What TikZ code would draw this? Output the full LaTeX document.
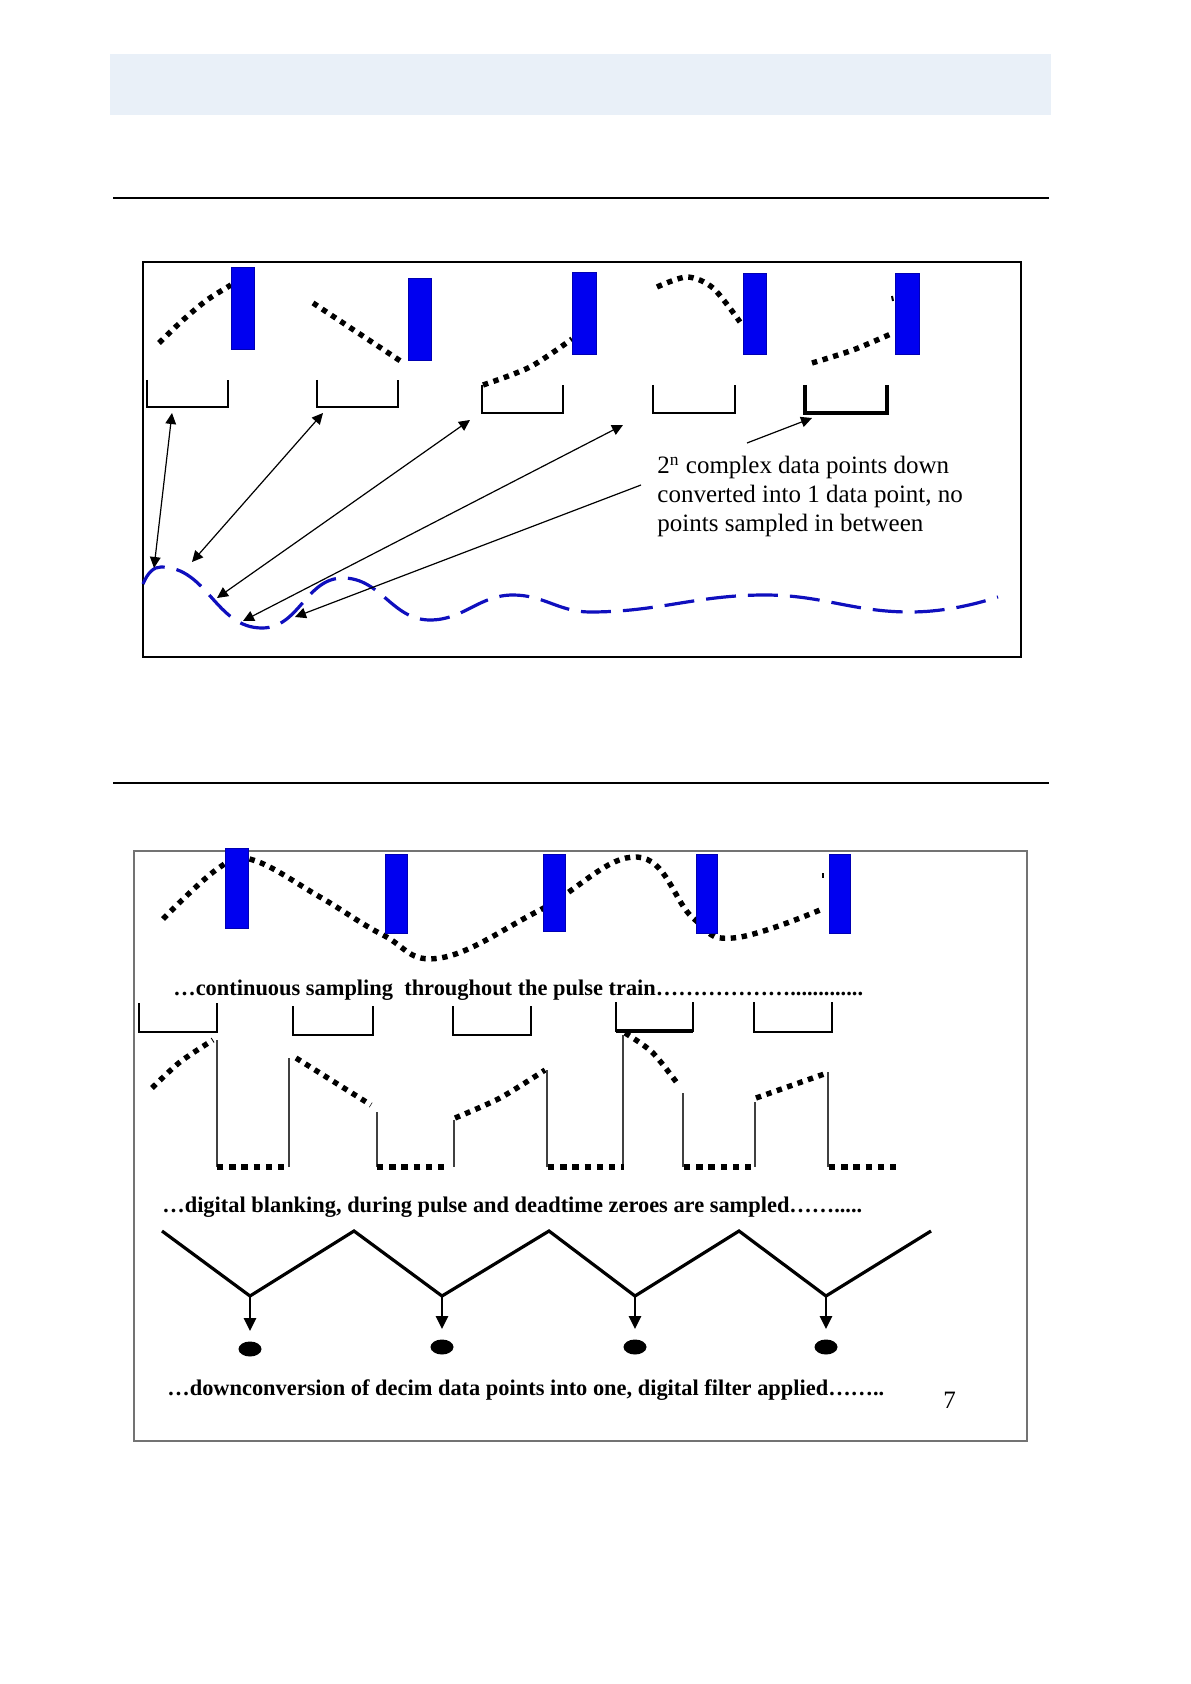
\documentclass[tikz,border=0pt]{standalone}
\usepackage{fontspec}
\setmainfont{Liberation Serif}
\usetikzlibrary{arrows.meta,positioning,shapes.geometric,calc}
\definecolor{bandblue}{RGB}{233,240,248}
\definecolor{pulseblue}{RGB}{0,0,240}
\definecolor{waveblue}{RGB}{15,15,190}
\tikzset{
  pulse/.style={fill=pulseblue, draw=blue!70!black, line width=0.3pt},
  gate/.style={draw, line width=1.4pt},
  samp/.style={draw, line width=2.7pt, dash pattern=on 2.7pt off 2.8pt},
  zero/.style={draw, line width=3.2pt, dash pattern=on 3.2pt off 2.9pt},
  wave/.style={draw=waveblue, line width=1.6pt, dash pattern=on 15pt off 6pt},
  link/.style={{Triangle[length=5.5pt,width=5.3pt]}-{Triangle[length=5.5pt,width=5.3pt]}, line width=0.6pt},
  pointer/.style={-{Triangle[length=5.5pt,width=5.3pt]}, line width=0.6pt},
  tap/.style={-{Triangle[length=6.5pt,width=6pt]}, line width=1.3pt},
  blank/.style={draw=black!75, line width=0.6pt},
  dot/.style={ellipse, fill, minimum width=11.5pt, minimum height=7.5pt, inner sep=0pt},
  note/.style={font=\fontsize{12.5}{14.5}\selectfont, align=left, inner sep=0pt},
  caption/.style={font=\bfseries\fontsize{11.2}{13}\selectfont, inner sep=0pt, anchor=base west},
}

\begin{document}
\begin{tikzpicture}[x=0.5pt, y=-0.5pt]
  \useasboundingbox (0,0) rectangle (1190,1684);
  \fill[bandblue] (110,54) rectangle (1051,115);
  \draw[line width=0.7pt] (113,198) -- (1049,198);
  \draw[line width=0.7pt] (113,783) -- (1049,783);

  % upper panel: one sample per window
  \draw[line width=1pt] (143,262) rectangle (1021,657);
  \draw[samp] plot[smooth] coordinates {(159,343) (183,320) (207,300) (231,285)};
  \draw[samp] (313,303) -- (402,362);
  \draw[samp] plot[smooth] coordinates {(483,385) (530,367) (572,339)};
  \draw[samp] plot[smooth] coordinates {(657,287) (687,277) (713,288) (740,322)};
  \draw[samp] plot[smooth] coordinates {(812,363) (853,350) (893,333)};
  \draw[line width=1pt] (892,296) -- (893,301);
  \fill[pulse] (231,267) rectangle (254,349);
  \fill[pulse] (408,278) rectangle (431,360);
  \fill[pulse] (572,272) rectangle (596,354);
  \fill[pulse] (743,273) rectangle (766,354);
  \fill[pulse] (895,273) rectangle (919,354);
  \draw[gate] (147,380) |- (228,407) -- (228,380);
  \draw[gate] (317,380) |- (398,407) -- (398,380);
  \draw[gate] (482,385) |- (563,413) -- (563,385);
  \draw[gate] (653,385) |- (735,413) -- (735,385);
  \draw[gate, line width=1.9pt] (805,385) |- (887,413) -- (887,385);

  \draw[wave] (143,584) .. controls (148,572) and (154,567) .. (161,567)
    to[out=0,in=180] (262,628) to[out=0,in=180] (343,578)
    to[out=0,in=180] (430,620) to[out=0,in=180] (513,595)
    to[out=0,in=180] (590,612) to[out=0,in=180] (765,595)
    to[out=0,in=180] (910,612) .. controls (940,612) and (970,606) .. (998,597);

  \node[note, anchor=north west] (info) at (657,456)
    {2\textsuperscript{n} complex data points down\\
     converted into 1 data point, no\\
     points sampled in between};

  \coordinate (t1) at (172,413);
  \coordinate (t2) at (323,413);
  \coordinate (t3) at (470,420);
  \coordinate (t4) at (623,425);
  \coordinate (t5) at (812,418);
  \coordinate (h1) at (154,568);
  \coordinate (h2) at (192,562);
  \coordinate (h3) at (217,598);
  \coordinate (h4) at (243,621);
  \coordinate (h5) at (295,617);
  \coordinate (n1) at (641,485);
  \coordinate (n2) at (747,443);
  \foreach \i in {1,...,4}
    \draw[link] (t\i) -- (h\i);
  \draw[pointer] (n1) -- (h5);
  \draw[pointer] (n2) -- (t5);

  % lower panel: continuous sampling, blanking, decimation
  \draw[black!55, line width=0.8pt] (134,851) rectangle (1027,1441);
  \draw[samp] plot[smooth, tension=0.7] coordinates {(163,919) (220,867) (253,860) (320,897)
    (383,935) (440,958) (540,910) (637,857) (693,918) (733,938) (820,910)};
  \draw[line width=1pt] (823,873) -- (823,878);
  \fill[pulse] (225,848) rectangle (248,928);
  \fill[pulse] (385,854) rectangle (407,933);
  \fill[pulse] (543,854) rectangle (565,931);
  \fill[pulse] (696,854) rectangle (717,933);
  \fill[pulse] (829,854) rectangle (850,933);

  \node[caption] (cont) at (173,995)
    {…continuous sampling\ \ throughout the pulse train……………….............};

  \draw[gate] (139,1003) |- (217,1032) -- (217,1003);
  \draw[gate] (293,1006) |- (373,1035) -- (373,1006);
  \draw[gate] (453,1006) |- (531,1035) -- (531,1006);
  \draw[gate] (616,1002) |- (693,1031) -- (693,1002);
  \draw[line width=2.3pt] (616,1031) -- (693,1031);
  \draw[gate] (754,1002) |- (832,1032) -- (832,1002);

  \draw[samp] plot[smooth] coordinates {(152,1088) (180,1062) (213,1040)};
  \draw[samp] (296,1058) -- (371,1105);
  \draw[samp] plot[smooth] coordinates {(455,1118) (500,1098) (545,1070)};
  \draw[samp] plot[smooth] coordinates {(625,1033) (652,1052) (677,1083)};
  \draw[samp] (756,1098) -- (827,1073);
  \draw[blank] (217,1040) -- (217,1167);
  \draw[blank] (289,1058) -- (289,1167);
  \draw[blank] (377,1112) -- (377,1167);
  \draw[blank] (454,1120) -- (454,1167);
  \draw[blank] (547,1070) -- (547,1167);
  \draw[blank] (623,1035) -- (623,1167);
  \draw[blank] (683,1093) -- (683,1167);
  \draw[blank] (755,1102) -- (755,1167);
  \draw[blank] (828,1072) -- (828,1167);
  \foreach \xa/\xb in {217/289, 377/449, 548/624, 684/757, 829/898}
    \draw[zero] (\xa,1167) -- (\xb,1167);

  \node[caption] (blnk) at (162,1212)
    {…digital blanking, during pulse and deadtime zeroes are sampled…….....};

  \coordinate (k1) at (250,1296);
  \coordinate (k2) at (442,1296);
  \coordinate (k3) at (635,1296);
  \coordinate (k4) at (826,1296);
  \draw[line width=1.6pt] (162,1231) -- (k1) -- (354,1231) -- (k2) -- (549,1231)
    -- (k3) -- (739,1231) -- (k4) -- (931,1231);
  \node[dot] (d1) at (250,1349) {};
  \node[dot] (d2) at (442,1347) {};
  \node[dot] (d3) at (635,1347) {};
  \node[dot] (d4) at (826,1347) {};
  \foreach \i in {1,...,4}
    \draw[tap, shorten >=5pt] (k\i) -- (d\i.north);

  \node[caption] (down) at (167,1395)
    {…downconversion of decim data points into one, digital filter applied……..};
  \node[font=\fontsize{12.5}{14}\selectfont, inner sep=0pt, anchor=base west] (page) at (943,1408) {7};
\end{tikzpicture}
\end{document}
